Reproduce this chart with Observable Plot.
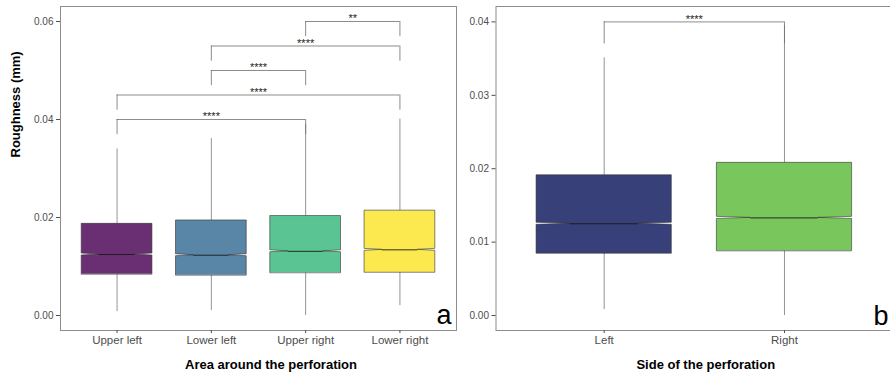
<!DOCTYPE html>
<html><head><meta charset="utf-8">
<script src="https://cdn.jsdelivr.net/npm/d3@7"></script>
<script src="https://cdn.jsdelivr.net/npm/@observablehq/plot@0.6"></script>
<style>
body{margin:0;background:#fff;}
#wrap{position:relative;width:890px;height:373px;overflow:hidden;}
#wrap svg{position:absolute;top:0;}
</style></head><body><div id="wrap"></div>
<script>
// ---- Panel a: area around the perforation ----
const areaCats = ["Upper left", "Lower left", "Upper right", "Lower right"];
const areaColors = ["#6a2f73", "#5985a6", "#5ac592", "#fbe94f"];
const areaLow  = [0.0008, 0.0010, 0.0000, 0.0020];
const areaQ1   = [0.0084, 0.0082, 0.0087, 0.0088];
const areaMed  = [0.01245, 0.0123, 0.0131, 0.0134];
const areaQ3   = [0.0187, 0.0194, 0.0203, 0.0214];
const areaHigh = [0.0340, 0.0361, 0.0390, 0.0401];
const areaYTicks = [0, 0.02, 0.04, 0.06];
const areaBracketFrom  = ["Upper right", "Lower left", "Lower left", "Upper left", "Upper left"];
const areaBracketTo    = ["Lower right", "Lower right", "Upper right", "Lower right", "Upper right"];
const areaBracketY     = [0.06, 0.055, 0.05, 0.045, 0.04];
const areaBracketLabel = ["**", "****", "****", "****", "****"];

// ---- Panel b: side of the perforation ----
const sideCats = ["Left", "Right"];
const sideColors = ["#38407a", "#78c65c"];
const sideLow  = [0.0008, 0.0000];
const sideQ1   = [0.00845, 0.0088];
const sideMed  = [0.0125, 0.0133];
const sideQ3   = [0.0191, 0.0208];
const sideHigh = [0.0351, 0.0395];
const sideYTicks = [0, 0.01, 0.02, 0.03, 0.04];
const sideBracketFrom  = ["Left"];
const sideBracketTo    = ["Right"];
const sideBracketY     = [0.04];
const sideBracketLabel = ["****"];

const FONT = "'Liberation Sans', Arial, Helvetica, sans-serif";

function panel(o) {
  const {cats, colors, low, q1, med, q3, high, notch, tip, bFrom, bTo, bY, bLab} = o;
  const hw = 0.375, inset = 0.1875;
  const idx = cats.map((c, k) => k + 1);
  const pos = c => cats.indexOf(c) + 1;
  const boxes = [];
  cats.forEach((c, k) => {
    const i = k + 1;
    [[q1[k], 0], [med[k] - notch, 0], [med[k], inset], [med[k] + notch, 0], [q3[k], 0]]
      .forEach(([y, d]) => boxes.push({cat: c, y, x1: i - hw + d, x2: i + hw - d}));
  });
  const stats = cats.map((c, k) => ({cat: c, i: k + 1, lo: low[k], q1: q1[k], med: med[k], q3: q3[k], hi: high[k]}));
  const brackets = bFrom.map((f, k) => ({a: pos(f), b: pos(bTo[k]), y: bY[k], label: bLab[k]}));
  const tips = brackets.flatMap(d => [{x: d.a, y: d.y}, {x: d.b, y: d.y}]);
  const marks = [
    Plot.frame({stroke: "#8c8c8c", strokeWidth: 1}),
    Plot.ruleX(stats, {x: "i", y1: "lo", y2: "q1", stroke: "#666", strokeWidth: 0.7}),
    Plot.ruleX(stats, {x: "i", y1: "q3", y2: "hi", stroke: "#666", strokeWidth: 0.7}),
    Plot.areaX(boxes, {y: "y", x1: "x1", x2: "x2", z: "cat", fill: "cat", stroke: "#333", strokeWidth: 0.6}),
    Plot.ruleY(stats, {y: "med", x1: d => d.i - hw + inset, x2: d => d.i + hw - inset, stroke: "#1a1a1a", strokeWidth: 0.9}),
    Plot.ruleY(brackets, {y: "y", x1: "a", x2: "b", stroke: "#6e6e6e", strokeWidth: 0.8}),
    Plot.ruleX(tips, {x: "x", y1: "y", y2: d => d.y - tip, stroke: "#6e6e6e", strokeWidth: 0.8}),
    Plot.text(brackets, {x: d => (d.a + d.b) / 2, y: "y", text: "label", lineAnchor: "bottom", dy: 1, fontSize: 11, fill: "#222"}),
    Plot.axisX({ticks: idx, tickFormat: i => cats[i - 1], tickSize: 3, tickPadding: 2, fontSize: 11.5, color: "#4d4d4d", label: null}),
    Plot.axisY({ticks: o.yTicks, tickFormat: d3.format(".2f"), tickSize: 4, tickPadding: 3, fontSize: 10, color: "#4d4d4d", label: null}),
    Plot.text([o.xTitle], {text: d => d, frameAnchor: "bottom", dx: 12.5, dy: 34, lineAnchor: "middle", fontWeight: "bold", fontSize: 13, fill: "#000"}),
    Plot.text([o.letter], {text: d => d, frameAnchor: "bottom-right", textAnchor: "end", lineAnchor: "bottom", dx: o.letterDx, dy: o.letterDy, fontSize: 27, fill: "#000"})
  ];
  if (o.yTitle) {
    marks.push(Plot.text([o.yTitle], {text: d => d, frameAnchor: "left", rotate: -90, dx: -45, dy: -11, lineAnchor: "middle", fontWeight: "bold", fontSize: 13, fill: "#000"}));
  }
  const svg = Plot.plot({
    width: o.width, height: 373,
    marginLeft: o.marginLeft, marginRight: o.marginRight, marginTop: 6, marginBottom: 43,
    style: {fontFamily: FONT, background: "transparent", overflow: "visible"},
    x: {domain: o.xDomain},
    y: {domain: o.yDomain},
    color: {domain: cats, range: colors},
    marks
  });
  svg.style.left = o.left + "px";
  return svg;
}

const wrap = document.getElementById("wrap");
wrap.appendChild(panel({
  cats: areaCats, colors: areaColors, low: areaLow, q1: areaQ1, med: areaMed, q3: areaQ3, high: areaHigh,
  notch: 0.0002, tip: 0.0031,
  bFrom: areaBracketFrom, bTo: areaBracketTo, bY: areaBracketY, bLab: areaBracketLabel,
  width: 458, left: 0, marginLeft: 60, marginRight: 2,
  xDomain: [0.4, 4.6], yDomain: [-0.00306, 0.06306], yTicks: areaYTicks,
  xTitle: "Area around the perforation", yTitle: "Roughness (mm)", letter: "a", letterDx: -5, letterDy: -7
}));
wrap.appendChild(panel({
  cats: sideCats, colors: sideColors, low: sideLow, q1: sideQ1, med: sideMed, q3: sideQ3, high: sideHigh,
  notch: 0.00014, tip: 0.003,
  bFrom: sideBracketFrom, bTo: sideBracketTo, bY: sideBracketY, bLab: sideBracketLabel,
  width: 432, left: 458, marginLeft: 37.5, marginRight: 0,
  xDomain: [0.4, 2.588], yDomain: [-0.00204, 0.0421], yTicks: sideYTicks,
  xTitle: "Side of the perforation", yTitle: null, letter: "b", letterDx: -2, letterDy: -6
}));
</script></body></html>
